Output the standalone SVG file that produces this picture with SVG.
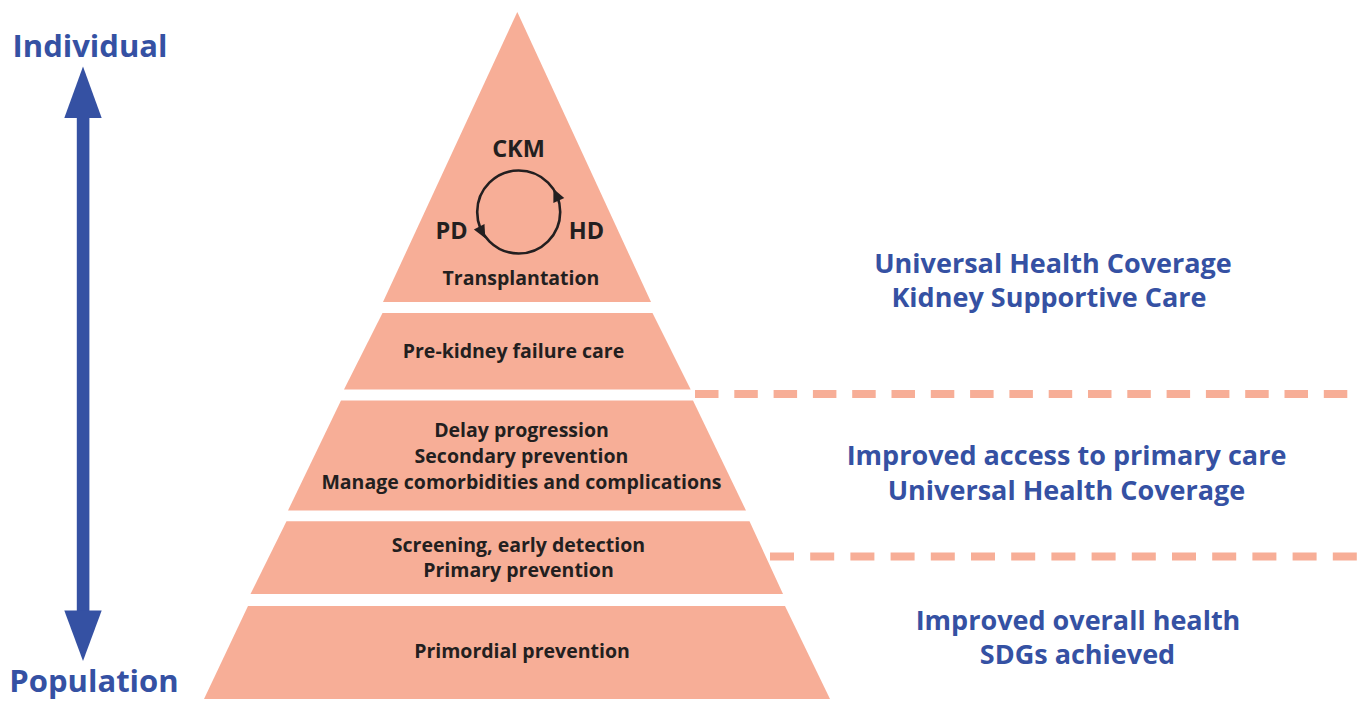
<svg xmlns="http://www.w3.org/2000/svg" width="1367" height="702" viewBox="0 0 1367 702">
<style>
.layer{fill:#F7AE97}
.pt{font-family:"Open Sans","Liberation Sans",sans-serif;font-weight:700;font-size:19.5px;fill:#231F20;text-anchor:middle}
.ct{font-family:"Open Sans","Liberation Sans",sans-serif;font-weight:700;font-size:23.5px;fill:#231F20;text-anchor:middle}
.rt{font-family:"Open Sans","Liberation Sans",sans-serif;font-weight:700;font-size:27px;fill:#3551A3;text-anchor:middle}
.lt{font-family:"Open Sans","Liberation Sans",sans-serif;font-weight:700;font-size:31px;fill:#3551A3;text-anchor:middle}
.dash{stroke:#F7AE97;stroke-width:8;fill:none}
.blue{fill:#3551A3}
</style>
<defs>
<path id="ah" d="M7,0 L-6,-6 L-6,6 Z" fill="#231F20"/>
</defs>

<g id="axis">
<rect class="blue" x="76.8" y="116" width="12.6" height="496"/>
<polygon class="blue" points="83,66.5 101.7,118 64.3,118"/>
<polygon class="blue" points="83,661 101.7,610.5 64.3,610.5"/>
<text class="lt" x="90" y="57">Individual</text>
<text class="lt" x="94" y="692">Population</text>
</g>

<g id="layer-top">
<polygon class="layer" points="517.3,12 651,302 383,302"/>
<text class="ct" x="518.5" y="157">CKM</text>
<text class="ct" x="451.5" y="239">PD</text>
<text class="ct" x="586.5" y="239">HD</text>
<circle cx="518.7" cy="212" r="41.5" fill="none" stroke="#231F20" stroke-width="2.6"/>
<use href="#ah" transform="translate(556.3,195) rotate(-115)"/>
<use href="#ah" transform="translate(482,232) rotate(62)"/>
<text class="pt" x="521" y="285">Transplantation</text>
</g>

<g id="layer-prekidney">
<polygon class="layer" points="382.5,313 652.5,313 690.7,389.5 344,389.5"/>
<text class="pt" x="513.5" y="358">Pre-kidney failure care</text>
</g>

<g id="layer-secondary">
<polygon class="layer" points="341,400.5 693,400.5 746,510.5 288,510.5"/>
<text class="pt" x="521.5" y="437">Delay progression</text>
<text class="pt" x="521.5" y="463">Secondary prevention</text>
<text class="pt" x="521.5" y="488.5">Manage comorbidities and complications</text>
</g>

<g id="layer-primary">
<polygon class="layer" points="286.5,521.3 749.5,521.3 783,594 250.5,594"/>
<text class="pt" x="518.5" y="551.5">Screening, early detection</text>
<text class="pt" x="518.5" y="576.5">Primary prevention</text>
</g>

<g id="layer-primordial">
<polygon class="layer" points="248,606 785,606 830,699 204,699"/>
<text class="pt" x="522" y="658">Primordial prevention</text>
</g>

<g id="connectors">
<line class="dash" x1="695" y1="394" x2="1348" y2="394" stroke-dasharray="23.5 15.8"/>
<line class="dash" x1="770" y1="556.5" x2="1360" y2="556.5" stroke-dasharray="24 16.2"/>
</g>

<g id="outcome-top">
<text class="rt" x="1053" y="273">Universal Health Coverage</text>
<text class="rt" x="1049" y="307">Kidney Supportive Care</text>
</g>

<g id="outcome-middle">
<text class="rt" x="1066.5" y="465">Improved access to primary care</text>
<text class="rt" x="1066.5" y="500">Universal Health Coverage</text>
</g>

<g id="outcome-bottom">
<text class="rt" x="1078" y="630">Improved overall health</text>
<text class="rt" x="1077.5" y="663.5">SDGs achieved</text>
</g>
</svg>
